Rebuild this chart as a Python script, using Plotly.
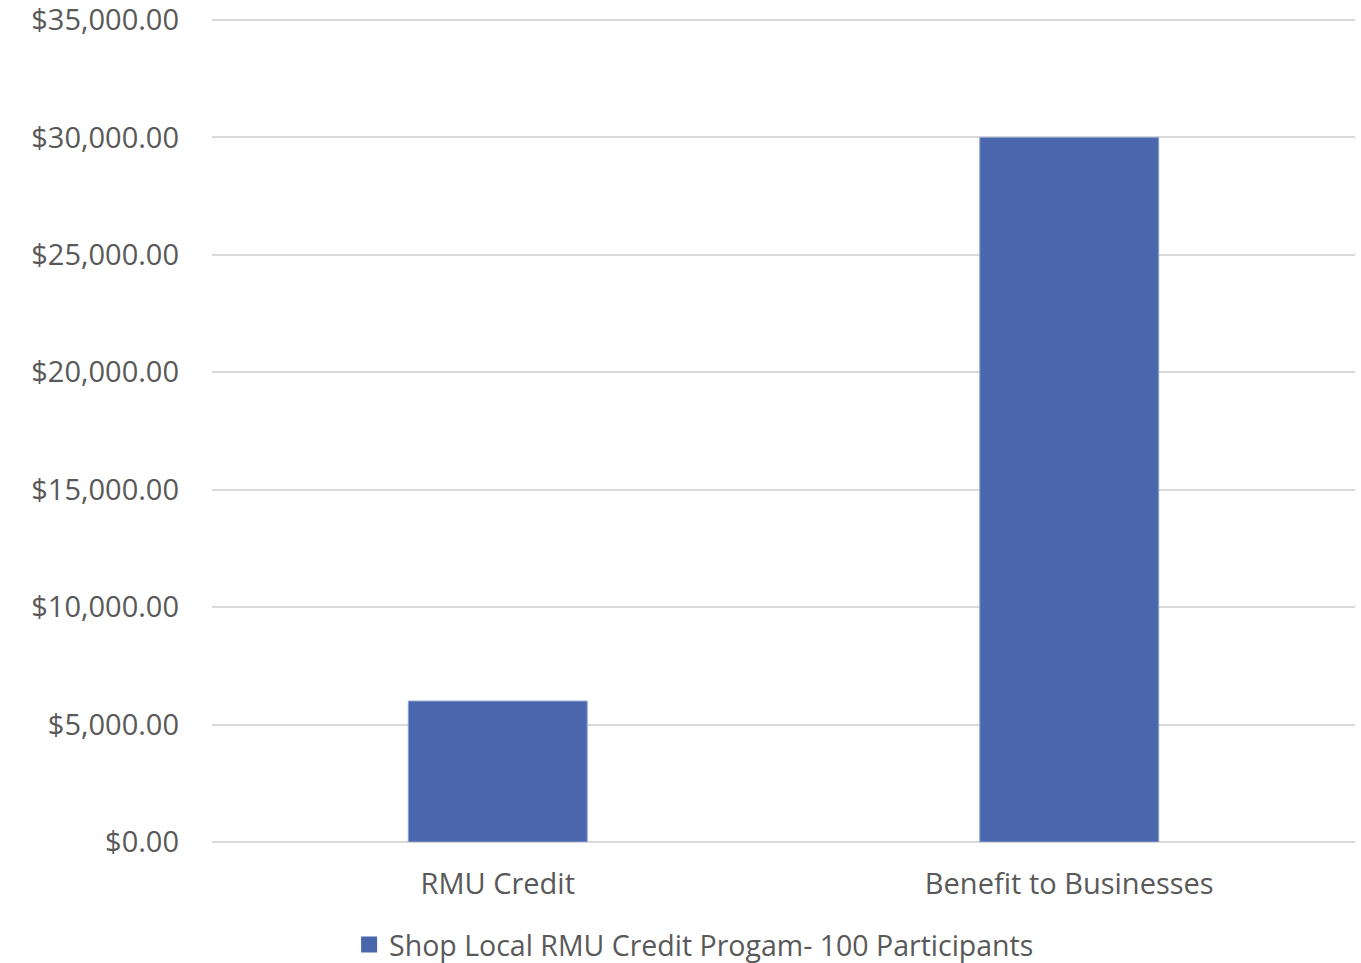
import plotly.graph_objects as go

categories = ["RMU Credit", "Benefit to Businesses"]
values = [6000, 30000]
series_name = "Shop Local RMU Credit Progam- 100 Participants"
y_ticks = [0, 5000, 10000, 15000, 20000, 25000, 30000, 35000]
y_max = 35085

BAR = "#4a66ac"
TEXT = "#595959"
GRID = "#d9d9d9"
FONT = "Open Sans"

fig = go.Figure()
fig.add_trace(go.Bar(
    x=categories, y=values, name=series_name,
    marker=dict(color=BAR, line=dict(color="#8da0cf", width=1)),
    showlegend=False,
))
# legend swatch (square marker like the reference)
fig.add_trace(go.Scatter(
    x=[None], y=[None], mode="markers", name=series_name,
    marker=dict(symbol="square", size=17, color=BAR),
    showlegend=True,
))

fig.update_layout(
    width=1361, height=963,
    margin=dict(l=212, r=6, t=18, b=121),
    paper_bgcolor="white", plot_bgcolor="white",
    bargap=0.687,
    font=dict(family=FONT, color=TEXT, size=26),
    showlegend=True,
    legend=dict(orientation="h", xref="container", yref="container",
                x=0.51, xanchor="center", y=0.0187, yanchor="middle",
                font=dict(size=28.5, color=TEXT, family=FONT), itemwidth=30,
                bgcolor="rgba(0,0,0,0)"),
    xaxis=dict(showline=False, ticks="", automargin=False, ticklabelstandoff=22,
               tickfont=dict(size=29, color=TEXT, family=FONT)),
    yaxis=dict(range=[0, y_max], tickvals=y_ticks, tickformat="$,.2f",
               showgrid=True, gridcolor=GRID, gridwidth=2, zeroline=True,
               zerolinecolor=GRID, zerolinewidth=2, showline=False, ticks="",
               automargin=False, ticklabelstandoff=32, ticklabeloverflow="allow",
               tickfont=dict(size=29, color=TEXT, family=FONT)),
)

fig.write_html("out.html", config={"displayModeBar": False},
               post_script="document.body.style.margin='0';document.body.style.overflow='hidden';")
